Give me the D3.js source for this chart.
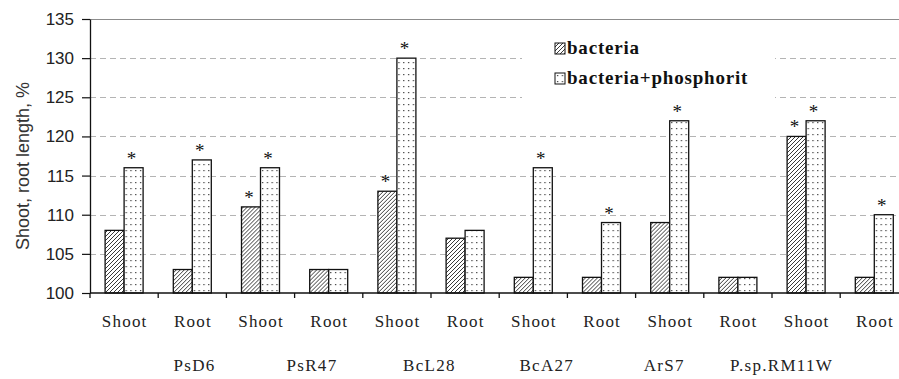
<!DOCTYPE html>
<html>
<head>
<meta charset="utf-8">
<script src="https://cdn.jsdelivr.net/npm/d3@7/dist/d3.min.js"></script>
<style>
  html, body { margin: 0; padding: 0; background: #fff; }
  svg { display: block; }
</style>
</head>
<body>
<svg id="chart" width="899" height="379"></svg>
<script>
// Plant parts measured for each strain, left to right
const parts = ["Shoot", "Root", "Shoot", "Root", "Shoot", "Root",
               "Shoot", "Root", "Shoot", "Root", "Shoot", "Root"];
// Strain names printed under each Shoot/Root pair
const strains = ["PsD6", "PsR47", "BcL28", "BcA27", "ArS7", "P.sp.RM11W"];
// Treatments (legend entries)
const seriesNames = ["bacteria", "bacteria+phosphorit"];
// Length relative to control, %
const bacteria   = [108, 103, 111, 103, 113, 107, 102, 102, 109, 102, 120, 102];
const phosphorit = [116, 117, 116, 103, 130, 108, 116, 109, 122, 102, 122, 110];
// Significant differences marked with an asterisk
const bacteriaSig   = [false, false, true, false, true, false, false, false, false, false, true, false];
const phosphoritSig = [true, true, true, false, true, false, true, true, true, false, true, true];
// Value axis ticks
const yTicks = [100, 105, 110, 115, 120, 125, 130, 135];

const seriesValues = [bacteria, phosphorit];
const seriesSig = [bacteriaSig, phosphoritSig];

const SERIF = '"Liberation Serif", "Times New Roman", serif';
const SANS = '"Liberation Sans", Arial, sans-serif';

const svg = d3.select("#chart");
const W = 899;
const plot = { left: 90, top: 19, bottom: 293, step: 68.2 };

// Patterns: diagonal hatch for bacteria, fine dots for bacteria+phosphorit
const defs = svg.append("defs");
const hatch = defs.append("pattern")
  .attr("id", "hatch").attr("patternUnits", "userSpaceOnUse")
  .attr("width", 4).attr("height", 4);
hatch.append("rect").attr("width", 4).attr("height", 4).attr("fill", "#fff");
hatch.append("path")
  .attr("d", "M-1,1 l2,-2 M0,4 l4,-4 M3,5 l2,-2")
  .attr("stroke", "#222").attr("stroke-width", 0.9);

const dots = defs.append("pattern")
  .attr("id", "dots").attr("patternUnits", "userSpaceOnUse")
  .attr("width", 4.8).attr("height", 6);
dots.append("rect").attr("width", 4.8).attr("height", 6).attr("fill", "#fff");
dots.append("rect").attr("x", 2).attr("y", 2).attr("width", 1.2).attr("height", 1.2).attr("fill", "#333");

const fills = ["url(#hatch)", "url(#dots)"];

// Scales
const idx = d3.range(parts.length);
const x = d3.scaleBand()
  .domain(idx)
  .range([plot.left, plot.left + plot.step * parts.length])
  .paddingInner(0).paddingOuter(0);
const x1 = d3.scaleBand()
  .domain([0, 1])
  .range([15.1, 53.1]);
const y = d3.scaleLinear()
  .domain([100, 135])
  .range([plot.bottom, plot.top]);

// Horizontal gridlines
svg.append("g").selectAll("line")
  .data(yTicks.filter(t => t > 100 && t < 135))
  .join("line")
  .attr("x1", plot.left).attr("x2", W)
  .attr("y1", d => Math.round(y(d)) + 0.5).attr("y2", d => Math.round(y(d)) + 0.5)
  .attr("stroke", "#b4b4b4").attr("stroke-width", 1)
  .attr("stroke-dasharray", "6,4");

// Top frame line
svg.append("line")
  .attr("x1", plot.left).attr("x2", W)
  .attr("y1", Math.round(y(135)) + 0.5).attr("y2", Math.round(y(135)) + 0.5)
  .attr("stroke", "#8c8c8c").attr("stroke-width", 1.2);

// Legend backdrop
const legend = svg.append("g");
legend.append("rect")
  .attr("x", 522).attr("y", 28).attr("width", 253).attr("height", 80)
  .attr("fill", "#fff");

// Bars
const groups = svg.append("g").selectAll("g")
  .data(idx)
  .join("g")
  .attr("transform", i => `translate(${x(i)},0)`);

groups.selectAll("rect")
  .data(i => seriesValues.map((vals, s) => ({ s, v: vals[i] })))
  .join("rect")
  .attr("x", d => x1(d.s))
  .attr("width", x1.bandwidth())
  .attr("y", d => y(d.v))
  .attr("height", d => y(100) - y(d.v))
  .attr("fill", d => fills[d.s])
  .attr("stroke", "#111").attr("stroke-width", 1.3);

// Significance asterisks
groups.selectAll("text.sig")
  .data(i => seriesValues.map((vals, s) => ({ s, v: vals[i], sig: seriesSig[s][i] })).filter(d => d.sig))
  .join("text")
  .attr("class", "sig")
  .attr("x", d => x1(d.s) + x1.bandwidth() / 2 - 2)
  .attr("y", d => y(d.v) - 3)
  .attr("text-anchor", "middle")
  .style("font-family", SERIF)
  .attr("font-size", 19)
  .attr("fill", "#111")
  .text("*");

// Y axis
const yAxis = d3.axisLeft(y)
  .tickValues(yTicks)
  .tickSizeInner(8).tickSizeOuter(0).tickPadding(8)
  .tickFormat(d3.format("d"));
const gy = svg.append("g")
  .attr("transform", `translate(${plot.left},0)`)
  .call(yAxis);
gy.select(".domain").attr("stroke", "#111").attr("stroke-width", 1.3);
gy.selectAll(".tick line").attr("stroke", "#111").attr("stroke-width", 1.2);
gy.selectAll(".tick text")
  .style("font-family", SANS)
  .attr("font-size", 17)
  .attr("fill", "#222");

// X axis line and category boundary ticks
svg.append("line")
  .attr("x1", plot.left).attr("x2", W)
  .attr("y1", y(100)).attr("y2", y(100))
  .attr("stroke", "#111").attr("stroke-width", 1.4);
svg.append("g").selectAll("line")
  .data(idx)
  .join("line")
  .attr("x1", i => x(i)).attr("x2", i => x(i))
  .attr("y1", y(100)).attr("y2", y(100) + 5)
  .attr("stroke", "#111").attr("stroke-width", 1.3);

// Shoot / Root labels
svg.append("g").selectAll("text")
  .data(idx)
  .join("text")
  .attr("x", i => x(i) + x.bandwidth() / 2 + 0.6)
  .attr("y", 327)
  .attr("text-anchor", "middle")
  .style("font-family", SERIF)
  .attr("font-size", 17)
  .attr("letter-spacing", 1.2)
  .attr("fill", "#222")
  .text(i => parts[i]);

// Strain labels
const xs = d3.scaleBand()
  .domain(strains)
  .range([135.3, 135.3 + 117.4 * strains.length]);
svg.append("g").selectAll("text")
  .data(strains)
  .join("text")
  .attr("x", d => xs(d) + xs.bandwidth() / 2 + 0.6)
  .attr("y", 371)
  .attr("text-anchor", "middle")
  .style("font-family", SERIF)
  .attr("font-size", 17)
  .attr("letter-spacing", 1.3)
  .attr("fill", "#222")
  .text(d => d);

// Y axis title
svg.append("text")
  .attr("transform", "translate(29,166) rotate(-90)")
  .attr("text-anchor", "middle")
  .style("font-family", SANS)
  .attr("font-size", 18)
  .attr("fill", "#333")
  .text("Shoot, root length, %");

// Legend entries
const items = legend.selectAll("g.item")
  .data(seriesNames)
  .join("g")
  .attr("class", "item")
  .attr("transform", (d, i) => `translate(555,${43 + i * 30})`);
items.append("rect")
  .attr("width", 10).attr("height", 11)
  .attr("fill", (d, i) => fills[i])
  .attr("stroke", "#111").attr("stroke-width", 1);
items.append("text")
  .attr("x", 12).attr("y", 11)
  .style("font-family", SERIF)
  .attr("font-weight", "bold")
  .attr("font-size", 19)
  .attr("letter-spacing", 0.8)
  .attr("fill", "#111")
  .text(d => d);
</script>
</body>
</html>
